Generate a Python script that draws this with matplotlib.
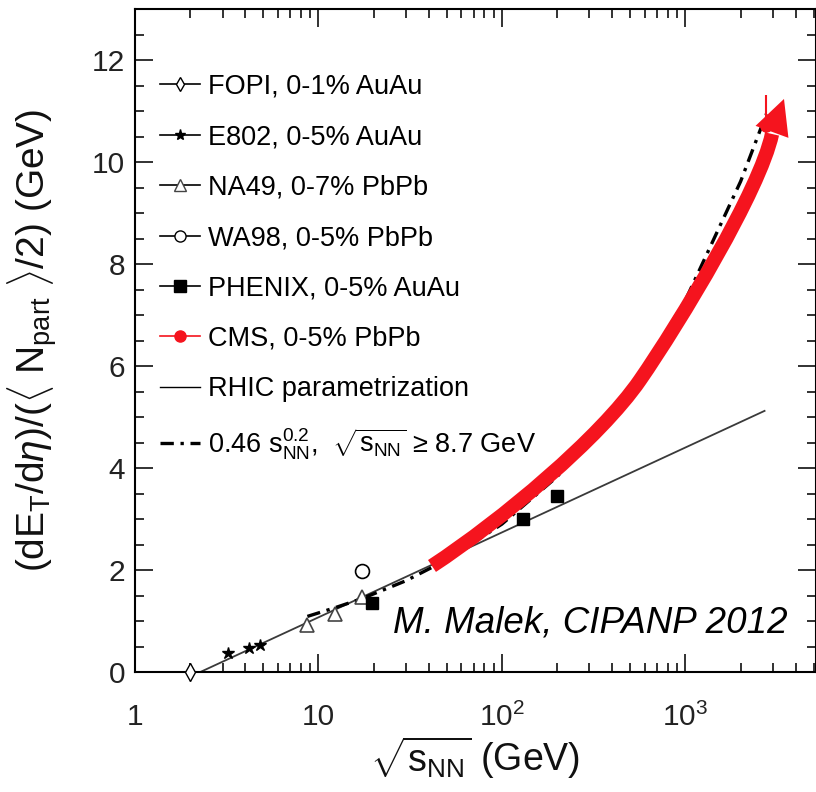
import numpy as np
import matplotlib
matplotlib.use("Agg")
import matplotlib.pyplot as plt
from matplotlib.lines import Line2D
from matplotlib.path import Path
from matplotlib.patches import PathPatch
from matplotlib.ticker import MultipleLocator, LogLocator, NullFormatter

plt.rcParams['font.family'] = ['Liberation Sans', 'DejaVu Sans']
plt.rcParams['mathtext.fontset'] = 'custom'
plt.rcParams['mathtext.rm'] = 'Liberation Sans'
plt.rcParams['mathtext.it'] = 'Liberation Sans:italic'
plt.rcParams['mathtext.bf'] = 'Liberation Sans:bold'

# measurements: sqrt(s_NN) in GeV, dE_T/deta per participant pair in GeV
fopi_x = [2.0]
fopi_y = [0.0]
fopi_err = [0.18]

e802_x = [3.2, 4.2, 4.8]
e802_y = [0.38, 0.47, 0.53]

na49_x = [8.7, 12.3, 17.3]
na49_y = [0.93, 1.13, 1.47]

wa98_x = [17.3]
wa98_y = [1.98]

phenix_x = [19.6, 130.0, 200.0]
phenix_y = [1.35, 3.0, 3.45]

cms_x = [2760.0]
cms_y = [10.7]
cms_err = [0.62]

# RHIC parametrization (straight in log x)
rhic_x = [2.27, 2700.0]
rhic_y = [0.0, 5.12]

# 0.46 s^0.2 curve for sqrt(s) >= 8.7 GeV
pow_x = [8.7, 12.3, 17.3, 30.0, 50.0, 100.0, 200.0, 500.0, 1000.0, 2000.0, 2760.0]
pow_y = [1.09, 1.26, 1.44, 1.79, 2.20, 2.90, 3.83, 5.53, 7.29, 9.62, 10.94]

red = '#f5141e'

fig = plt.figure(figsize=(8.16, 7.92), dpi=100)
ax = fig.add_axes([135 / 816, 120 / 792, 681 / 816, 663 / 792])

ax.set_xscale('log')
ax.set_xlim(1, 5150)
ax.set_ylim(0, 13)

ax.plot(rhic_x, rhic_y, color='#3a3a3a', lw=1.3, zorder=2)
ax.plot(pow_x, pow_y, color='k', lw=2.4, dashes=(4, 2, 1, 2), zorder=2)

ax.errorbar(fopi_x, fopi_y, yerr=fopi_err, fmt='d', ms=9, mfc='white', mec='k',
            mew=1.0, ecolor='k', elinewidth=1.0, capsize=0, zorder=4, clip_on=False)
ax.plot(e802_x, e802_y, '*', color='k', ms=9, zorder=4)
ax.plot(na49_x, na49_y, '^', ms=10, mfc='white', mec='#444444', mew=1.2, zorder=4)
ax.plot(wa98_x, wa98_y, 'o', ms=10, mfc='white', mec='k', mew=1.2, zorder=4)
ax.plot(phenix_x, phenix_y, 's', color='k', ms=9, zorder=4)
ax.errorbar(cms_x, cms_y, yerr=cms_err, fmt='o', color=red, ms=8,
            elinewidth=1.5, capsize=0, zorder=3)

# trend arrow (axes fraction), two cubic segments + head
shaft = Path(
    [(0.4361, 0.1599), (0.5389, 0.2293), (0.6828, 0.3529), (0.7416, 0.4404),
     (0.8003, 0.5279), (0.9178, 0.7270), (0.9354, 0.8115)],
    [Path.MOVETO, Path.CURVE4, Path.CURVE4, Path.CURVE4,
     Path.CURVE4, Path.CURVE4, Path.CURVE4])
ax.add_patch(PathPatch(shaft, transform=ax.transAxes, fill=False, edgecolor=red,
                       lw=10.3, capstyle='butt', zorder=5))
ax.annotate('', xy=(0.953, 0.8643), xytext=(0.9251, 0.7858),
            xycoords='axes fraction', textcoords='axes fraction',
            arrowprops=dict(arrowstyle='-|>,head_length=1.26,head_width=0.63',
                            mutation_scale=20, color=red, lw=0,
                            shrinkA=0, shrinkB=0),
            zorder=6)

ax.text(0.379, 0.060, 'M. Malek, CIPANP 2012', transform=ax.transAxes,
        fontsize=26.5, style='italic', color='k', va='baseline', ha='left')

# axes styling
for s in ax.spines.values():
    s.set_linewidth(1.5)
ax.yaxis.set_major_locator(MultipleLocator(2))
ax.yaxis.set_minor_locator(MultipleLocator(0.5))
ax.set_xticks([1, 10, 100, 1000])
ax.set_xticklabels(['1', '10', r'$10^{2}$', r'$10^{3}$'])
ax.xaxis.set_minor_locator(LogLocator(base=10, subs=np.arange(2, 10), numticks=20))
ax.xaxis.set_minor_formatter(NullFormatter())
ax.tick_params(which='both', direction='in', top=True, right=True, width=1.3,
               colors='#222222', labelsize=21.5)
ax.tick_params(which='major', length=13)
ax.tick_params(which='minor', length=6.5)
ax.tick_params(axis='x', pad=22)
ax.tick_params(axis='y', pad=7)

ax.set_xlabel(r'$\sqrt{\mathrm{s}_{\mathrm{NN}}}$ (GeV)', fontsize=27, color='#111111')
ax.xaxis.set_label_coords(0.5, -0.093)
ax.set_ylabel(r'(dE$_{\mathrm{T}}$/d$\eta$)/($\langle$ N$_{\mathrm{part}}$ $\rangle$/2) (GeV)',
              fontsize=28, color='#111111')
ax.yaxis.set_label_coords(-0.110, 0.5)

handles = [
    Line2D([], [], color='k', lw=1.2, marker='d', ms=7, mfc='white', mec='k'),
    Line2D([], [], color='k', lw=1.2, marker='*', ms=8),
    Line2D([], [], color='k', lw=1.2, marker='^', ms=8, mfc='white', mec='#444444'),
    Line2D([], [], color='k', lw=1.2, marker='o', ms=8, mfc='white', mec='k'),
    Line2D([], [], color='k', lw=1.2, marker='s', ms=9),
    Line2D([], [], color=red, lw=1.2, marker='o', ms=8),
    Line2D([], [], color='k', lw=1.0),
    Line2D([], [], color='k', lw=2.4, dashes=(4, 2, 1, 2)),
]
labels = [
    'FOPI, 0-1% AuAu',
    'E802, 0-5% AuAu',
    'NA49, 0-7% PbPb',
    'WA98, 0-5% PbPb',
    'PHENIX, 0-5% AuAu',
    'CMS, 0-5% PbPb',
    'RHIC parametrization',
    r'0.46 s$_{\mathrm{NN}}^{0.2}$,  $\sqrt{\mathrm{s}_{\mathrm{NN}}}$ ≥ 8.7 GeV',
]
ax.legend(handles, labels, loc='upper left', bbox_to_anchor=(0.0367, 0.902),
          frameon=False, fontsize=19.5, handlelength=1.48, handletextpad=0.29,
          labelspacing=0.90, borderpad=0, borderaxespad=0)

fig.savefig('out.png', dpi=100)
